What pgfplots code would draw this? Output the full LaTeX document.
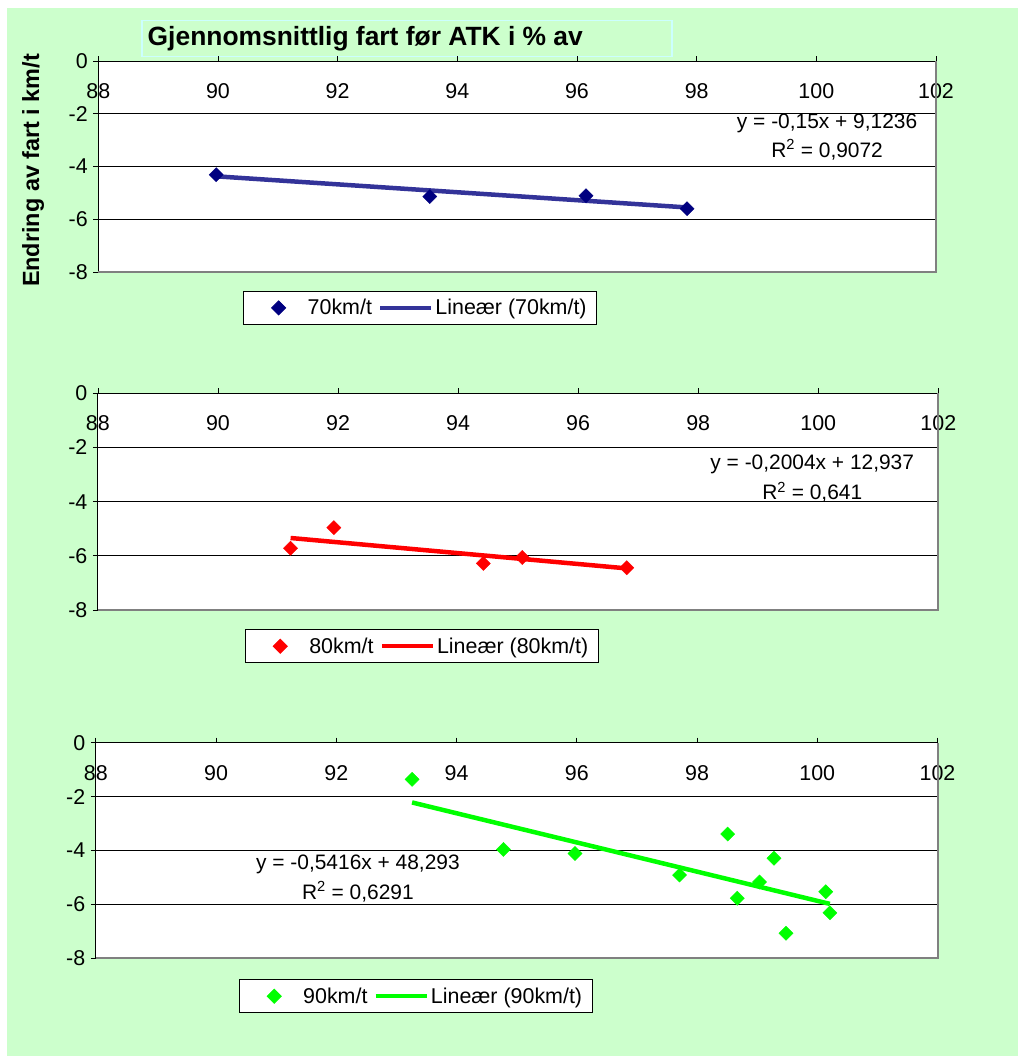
\documentclass[border=0pt]{standalone}
\usepackage{pgfplots}
\pgfplotsset{compat=1.18}
\usepackage{fontspec}
\setmainfont{Liberation Sans}
\definecolor{bggreen}{HTML}{CCFFCC}
\definecolor{navy}{HTML}{000080}
\definecolor{slate}{HTML}{333399}
\definecolor{ttlborder}{HTML}{CCFFFF}
\definecolor{spinegray}{HTML}{808080}
\definecolor{brightgreen}{HTML}{00FF00}
\newcommand{\fs}{\fontsize{21.5}{25}\selectfont}

\pgfplotsset{
 myaxis/.style={
  scale only axis,
  anchor=south west,
  xmin=88, xmax=102, ymin=-8, ymax=0,
  xtick={88,90,...,102}, ytick={-8,-6,...,0},
  axis line style={draw=none},
  xtick pos=upper, xticklabel pos=upper,
  ytick pos=left,
  tick align=outside,
  major tick length=5bp,
  tick style={black, line width=0.8bp},
  ymajorgrids, grid style={black, line width=0.8bp},
  tick label style={font=\fs},
  /pgf/number format/assume math mode=true,
  xticklabel style={anchor=center, yshift=-35bp},
  yticklabel style={anchor=east, xshift=-2bp},
  axis background/.style={fill=white},
  clip=false,
  legend columns=2,
  legend style={font=\fs, draw=black, line width=0.8bp, fill=white,
    at={(0,0)}, anchor=north west, inner xsep=8bp, inner ysep=6bp,
    /tikz/every even column/.append style={column sep=4bp}},
 },
 scat/.style={only marks, mark=square*, mark size=5bp,
   legend image code/.code={\path[draw=none,fill=none] (-27bp,0bp) -- (27bp,0bp); \draw[##1] plot coordinates {(0bp,0bp)};}},
 trend/.style={line width=4.5bp, no marks,
   legend image code/.code={\draw[##1] (0bp,0bp) -- (51bp,0bp);}},
}

\begin{document}
\begin{tikzpicture}
\useasboundingbox (0bp,0bp) rectangle (1018bp,-1056bp);
\fill[white] (0bp,0bp) rectangle (1018bp,-1056bp);
\fill[bggreen] (7bp,-8bp) rectangle (1018bp,-1056bp);
\draw[ttlborder, line width=1.5bp, fill=bggreen] (141.8bp,-20.7bp) rectangle (672bp,-56.4bp);
\node[anchor=west, font=\fontsize{26.5}{30}\selectfont\bfseries, inner sep=0pt] at (147.5bp,-38.5bp) {Gjennomsnittlig fart før ATK i \% av};
\node[rotate=90, font=\fontsize{23.5}{28}\selectfont\bfseries, inner sep=0pt] at (33bp,-170.5bp) {Endring av fart i km/t};

% ---------- chart 1: 70 km/t
\begin{axis}[myaxis, at={(98.3bp,-272bp)}, width=837.7bp, height=211bp,
  legend style={xshift=145bp, yshift=-19bp}]
\addplot[scat, color=navy, mark options={rotate=45, fill=navy}] coordinates {
 (89.97,-4.31) (93.54,-5.14) (96.15,-5.11) (97.84,-5.60)};
\addlegendentry{70km/t}
\addplot[trend, color=slate] coordinates {(89.97,-4.3719) (97.84,-5.5524)};
\addlegendentry{Lineær (70km/t)}
\node[align=center, font=\fontsize{21}{29}\selectfont] at (axis cs:100.18,-2.88) {y = -0,15x + 9,1236\\R\textsuperscript{2} = 0,9072};
\draw[black, line width=1bp] (rel axis cs:0,0) -- (rel axis cs:0,1) -- (rel axis cs:1,1);
\draw[spinegray, line width=2bp] (rel axis cs:0,0) -- (rel axis cs:1,0) -- (rel axis cs:1,1);
\end{axis}

% ---------- chart 2: 80 km/t
\begin{axis}[myaxis, at={(97.9bp,-610bp)}, width=840.4bp, height=216.7bp,
  legend style={xshift=147bp, yshift=-19.3bp}]
\addplot[scat, color=red, mark options={rotate=45, fill=red}] coordinates {
 (91.21,-5.72) (91.93,-4.96) (94.42,-6.28) (95.07,-6.06) (96.81,-6.44)};
\addlegendentry{80km/t}
\addplot[trend, color=red] coordinates {(91.21,-5.3415) (96.81,-6.4637)};
\addlegendentry{Lineær (80km/t)}
\node[align=center, font=\fontsize{21}{30}\selectfont] at (axis cs:99.9,-3.16) {y = -0,2004x + 12,937\\R\textsuperscript{2} = 0,641};
\draw[black, line width=1bp] (rel axis cs:0,0) -- (rel axis cs:0,1) -- (rel axis cs:1,1);
\draw[spinegray, line width=2bp] (rel axis cs:0,0) -- (rel axis cs:1,0) -- (rel axis cs:1,1);
\end{axis}

% ---------- chart 3: 90 km/t
\begin{axis}[myaxis, at={(95.8bp,-958.3bp)}, width=841.7bp, height=215.6bp,
  legend style={xshift=143bp, yshift=-21bp}]
\addplot[scat, color=brightgreen, mark options={rotate=45, fill=brightgreen}] coordinates {
 (93.26,-1.36) (94.78,-3.96) (95.97,-4.11) (97.71,-4.91) (98.51,-3.39)
 (98.67,-5.77) (99.04,-5.17) (99.28,-4.29) (99.48,-7.07) (100.14,-5.53) (100.21,-6.31)};
\addlegendentry{90km/t}
\addplot[trend, color=brightgreen] coordinates {(93.26,-2.2166) (100.21,-5.9807)};
\addlegendentry{Lineær (90km/t)}
\node[align=center, font=\fontsize{21}{30}\selectfont] at (axis cs:92.36,-5.03) {y = -0,5416x + 48,293\\R\textsuperscript{2} = 0,6291};
\draw[black, line width=1bp] (rel axis cs:0,0) -- (rel axis cs:0,1) -- (rel axis cs:1,1);
\draw[spinegray, line width=2bp] (rel axis cs:0,0) -- (rel axis cs:1,0) -- (rel axis cs:1,1);
\end{axis}
\end{tikzpicture}
\end{document}
